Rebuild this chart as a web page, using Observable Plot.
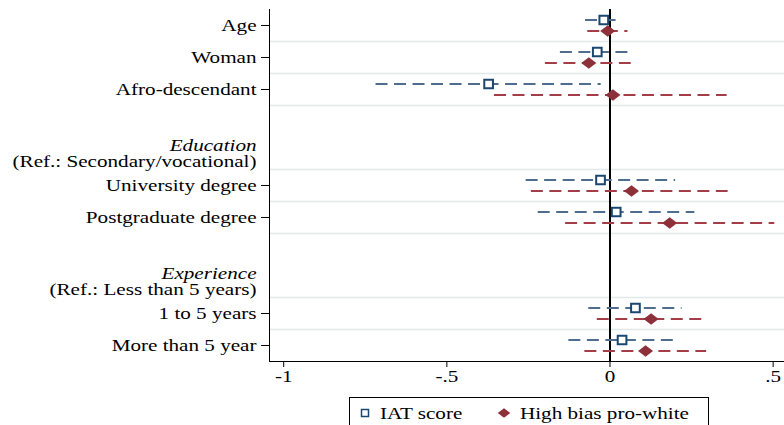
<!DOCTYPE html>
<html>
<head>
<meta charset="utf-8">
<script src="https://cdn.jsdelivr.net/npm/d3@7"></script>
<script src="https://cdn.jsdelivr.net/npm/@observablehq/plot@0.6"></script>
<style>
  body { margin: 0; background: #fff; }
  #chart { position: relative; width: 784px; height: 425px; overflow: hidden; background: #fff; }
  #legend { position: absolute; left: 349px; top: 397px; }
</style>
</head>
<body>
<div id="chart"></div>
<script>
// Coefficients with 95% confidence intervals for each covariate
const terms = ["Age", "Woman", "Afro-descendant", "University degree", "Postgraduate degree", "1 to 5 years", "More than 5 year"];
const iatEst = [-0.019, -0.039, -0.372, -0.029, 0.019, 0.078, 0.037];
const iatLo  = [-0.075, -0.152, -0.717, -0.257, -0.220, -0.065, -0.126];
const iatHi  = [ 0.037,  0.073, -0.027,  0.201,  0.260,  0.221,  0.194];
const biasEst = [-0.007, -0.065, 0.009, 0.066, 0.183, 0.126, 0.109];
const biasLo  = [-0.068, -0.198, -0.354, -0.241, -0.136, -0.039, -0.077];
const biasHi  = [ 0.055,  0.065,  0.359,  0.362,  0.505,  0.283,  0.296];

// Row slots, including the blank rows that carry the group headings
const slots = ["Age", "Woman", "Afro-descendant", "gap-edu", "Education", "University degree", "Postgraduate degree", "gap-exp", "Experience", "1 to 5 years", "More than 5 year"];
const groupTitles = ["Education", "Experience"];
const groupRefs = ["(Ref.: Secondary/vocational)", "(Ref.: Less than 5 years)"];
const gridBelow = ["Age", "Woman", "Afro-descendant", "Education", "University degree", "Postgraduate degree", "Experience", "1 to 5 years"];

const xDomain = [-1.0435, 0.5348];
const xTicks = [-1, -0.5, 0, 0.5];
const xTickLabels = ["-1", "-.5", "0", ".5"];

const seriesNames = ["IAT score", "High bias pro-white"];

const navy = "#1a476f", navyCI = "#4f6e8f";
const maroon = "#8e3039", maroonCI = "#a33e48";
const dash = "12,6.5";

const iat = terms.map((t, i) => ({term: t, est: iatEst[i], lo: iatLo[i], hi: iatHi[i]}));
const bias = terms.map((t, i) => ({term: t, est: biasEst[i], lo: biasLo[i], hi: biasHi[i]}));

// Wide diamond marker
const wideDiamond = {
  draw(ctx, size) {
    const r = Math.sqrt(size / Math.PI);
    const w = 1.25 * r, h = 0.95 * r;
    ctx.moveTo(-w, 0); ctx.lineTo(0, -h); ctx.lineTo(w, 0); ctx.lineTo(0, h); ctx.closePath();
  }
};

const serif = "'Liberation Serif', 'Times New Roman', serif";
const fs = 16;

const chart = Plot.plot({
  width: 784,
  height: 425,
  marginLeft: 269,
  marginRight: 0,
  marginTop: 9,
  marginBottom: 64,
  style: {fontFamily: serif, fontSize: fs + "px", color: "#000", background: "#fff"},
  x: {domain: xDomain},
  y: {type: "point", domain: slots, padding: 0.5},
  marks: [
    Plot.ruleY(gridBelow, {y: d => d, dy: 16, stroke: "#e1e9ea", strokeWidth: 1.5}),
    Plot.ruleX([0], {stroke: "#000", strokeWidth: 2}),
    Plot.frame({anchor: "left", stroke: "#000"}),
    Plot.frame({anchor: "bottom", stroke: "#000"}),
    Plot.axisY({ticks: terms, tickSize: 8, tickPadding: 5, fontSize: fs, label: null}),
    Plot.axisX({ticks: xTicks, tickSize: 6, tickPadding: 3, fontSize: fs, label: null,
      tickFormat: d => xTickLabels[xTicks.indexOf(d)]}),
    Plot.text(groupTitles, {y: d => d, text: d => d, frameAnchor: "left", dx: -13, dy: -8,
      textAnchor: "end", fontStyle: "italic", fontSize: fs, fill: "#000"}),
    Plot.text(groupRefs.map((r, i) => ({slot: groupTitles[i], r})), {y: "slot", text: "r", frameAnchor: "left",
      dx: -13, dy: 8, textAnchor: "end", fontSize: fs, fill: "#000"}),
    Plot.ruleY(iat, {y: "term", x1: "lo", x2: "hi", dy: -5.5, stroke: navyCI, strokeWidth: 2, strokeDasharray: dash}),
    Plot.ruleY(bias, {y: "term", x1: "lo", x2: "hi", dy: 5.5, stroke: maroonCI, strokeWidth: 2, strokeDasharray: dash}),
    Plot.dot(iat, {x: "est", y: "term", dy: -5.5, symbol: "square", r: 4.9, fill: "#fff", stroke: navy, strokeWidth: 2}),
    Plot.dot(bias, {x: "est", y: "term", dy: 5.5, symbol: wideDiamond, r: 6, fill: maroon, stroke: "none"})
  ]
});

const root = document.getElementById("chart");
root.appendChild(chart);

// Legend box below the axis
const leg = d3.create("svg").attr("id", "legend").attr("width", 360).attr("height", 40)
  .style("font-family", serif).style("font-size", fs + "px");
leg.append("rect").attr("x", 0.5).attr("y", 0.5).attr("width", 359).attr("height", 39)
  .attr("fill", "#fff").attr("stroke", "#000");
leg.append("rect").attr("x", 12.5).attr("y", 12.5).attr("width", 7).attr("height", 7)
  .attr("fill", "#fff").attr("stroke", navy).attr("stroke-width", 1.5);
leg.append("text").attr("x", 31).attr("y", 16).attr("dy", "0.35em").text(seriesNames[0]);
leg.append("path").attr("transform", "translate(155,16)").attr("d", d3.symbol(wideDiamond, Math.PI * 25)()).attr("fill", maroon);
leg.append("text").attr("x", 171).attr("y", 16).attr("dy", "0.35em").text(seriesNames[1]);
root.appendChild(leg.node());

// Widen the serif lettering horizontally
function widen(svg, k) {
  svg.querySelectorAll("text").forEach(t => {
    const w = t.getComputedTextLength();
    if (w > 0) {
      t.setAttribute("textLength", w * k);
      t.setAttribute("lengthAdjust", "spacingAndGlyphs");
    }
  });
}
widen(chart, 1.32);
widen(leg.node(), 1.32);
</script>
</body>
</html>
